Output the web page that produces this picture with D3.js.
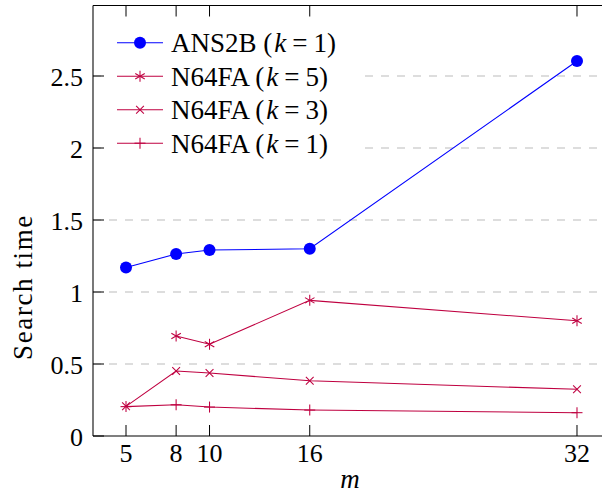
<!DOCTYPE html>
<html>
<head>
<meta charset="utf-8">
<script src="https://cdn.jsdelivr.net/npm/d3@7"></script>
<style>
  body { margin: 0; background: #fff; }
</style>
</head>
<body>
<svg id="chart" width="602" height="494"></svg>
<script>
// data
const mValues = [5, 8, 10, 16, 32];
const ans2bK1 = [1.17, 1.264, 1.292, 1.30, 2.604];
const n64faK5 = [null, 0.694, 0.637, 0.942, 0.80];
const n64faK3 = [0.206, 0.451, 0.437, 0.384, 0.324];
const n64faK1 = [0.204, 0.217, 0.201, 0.18, 0.162];
const yTicks = [0, 0.5, 1, 1.5, 2, 2.5];
const yTickLabels = ["0", "0.5", "1", "1.5", "2", "2.5"];

const blue = "#0000ff", purple = "#bf0040";
const serifFont = "'Liberation Serif', Tinos, 'Times New Roman', Times, 'DejaVu Serif', 'Noto Serif', serif";

const series = [
    { name: "ANS2B", k: 1, values: ans2bK1, color: blue, mark: "circle" },
    { name: "N64FA", k: 5, values: n64faK5, color: purple, mark: "asterisk" },
    { name: "N64FA", k: 3, values: n64faK3, color: purple, mark: "x" },
    { name: "N64FA", k: 1, values: n64faK1, color: purple, mark: "plus" }
];

const svg = d3.select("#chart").attr("font-family", serifFont);
const plotLeft = 93, plotTop = 5.5, plotBottom = 436;

const x = d3.scaleLinear().domain([3, 34]).range([92.6, 610.4]);
const y = d3.scaleLinear().domain([0, 3]).range([plotBottom, plotBottom - 432]);

// grid
svg.append("g").selectAll("line")
    .data(yTicks.filter(d => d > 0))
    .enter().append("line")
    .attr("x1", plotLeft).attr("x2", 602)
    .attr("y1", d => y(d)).attr("y2", d => y(d))
    .attr("stroke", "#bcbcbc").attr("stroke-width", 1.06)
    .attr("stroke-dasharray", "8,8");

// axes box
svg.append("line").attr("x1", plotLeft).attr("x2", plotLeft).attr("y1", plotTop).attr("y2", plotBottom)
    .attr("stroke", "#000").attr("stroke-width", 1.06);
svg.append("line").attr("x1", plotLeft).attr("x2", 602).attr("y1", plotBottom).attr("y2", plotBottom)
    .attr("stroke", "#000").attr("stroke-width", 1.06);
svg.append("line").attr("x1", plotLeft).attr("x2", 602).attr("y1", plotTop).attr("y2", plotTop)
    .attr("stroke", "#000").attr("stroke-width", 1.06);

// x ticks (inside, mirrored on top)
const xt = svg.append("g");
mValues.forEach(m => {
    xt.append("line").attr("x1", x(m)).attr("x2", x(m)).attr("y1", plotBottom).attr("y2", plotBottom - 11)
        .attr("stroke", "#000").attr("stroke-width", 1);
    xt.append("line").attr("x1", x(m)).attr("x2", x(m)).attr("y1", plotTop).attr("y2", plotTop + 11)
        .attr("stroke", "#000").attr("stroke-width", 1);
    xt.append("text").attr("x", x(m)).attr("y", 462)
        .attr("text-anchor", "middle").attr("font-size", 26).text(m);
});

// y ticks
const yt = svg.append("g");
yTicks.forEach((v, i) => {
    yt.append("line").attr("x1", plotLeft).attr("x2", plotLeft + 11).attr("y1", y(v)).attr("y2", y(v))
        .attr("stroke", "#000").attr("stroke-width", 1);
    yt.append("text").attr("x", 83).attr("y", y(v) + 9.5)
        .attr("text-anchor", "end").attr("font-size", 26).text(yTickLabels[i]);
});

// axis labels
svg.append("text").attr("x", 350).attr("y", 488).attr("text-anchor", "middle")
    .attr("font-size", 27).attr("font-style", "italic").text("m");
svg.append("text").attr("transform", "translate(32,287) rotate(-90)")
    .attr("text-anchor", "middle").attr("font-size", 27).attr("letter-spacing", 1.6).text("Search time");

// markers
function drawMark(g, mark, cx, cy, color) {
    const r = 5.5;
    if (mark === "circle") {
        g.append("circle").attr("cx", cx).attr("cy", cy).attr("r", 6).attr("fill", color);
        return;
    }
    let angles = [];
    if (mark === "plus") angles = [0, 90];
    if (mark === "x") angles = [45, 135];
    if (mark === "asterisk") angles = [90, 30, 150];
    angles.forEach(a => {
        const dx = r * Math.cos(a * Math.PI / 180), dy = r * Math.sin(a * Math.PI / 180);
        g.append("line").attr("x1", cx - dx).attr("x2", cx + dx).attr("y1", cy - dy).attr("y2", cy + dy)
            .attr("stroke", color).attr("stroke-width", 1.06);
    });
}

const line = d3.line()
    .defined(d => d.v !== null)
    .x(d => x(d.m)).y(d => y(d.v));

// draw in reverse so ANS2B sits on top
series.slice().reverse().forEach(s => {
    const pts = mValues.map((m, i) => ({ m: m, v: s.values[i] }));
    const g = svg.append("g");
    g.append("path").datum(pts).attr("d", line)
        .attr("fill", "none").attr("stroke", s.color).attr("stroke-width", 1.06);
    pts.filter(p => p.v !== null).forEach(p => drawMark(g, s.mark, x(p.m), y(p.v), s.color));
});

// legend
const lg = svg.append("g");
lg.append("rect").attr("x", 105).attr("y", 22).attr("width", 259).attr("height", 141).attr("fill", "#fff");
series.forEach((s, i) => {
    const cy = 42.7 + i * 33.5;
    lg.append("line").attr("x1", 117).attr("x2", 163).attr("y1", cy).attr("y2", cy)
        .attr("stroke", s.color).attr("stroke-width", 1.06);
    drawMark(lg, s.mark, 140, cy, s.color);
    const t = lg.append("text").attr("x", 171).attr("y", cy + 9.5).attr("font-size", 27)
        .attr("xml:space", "preserve");
    t.append("tspan").text(s.name + " (");
    t.append("tspan").attr("font-style", "italic").attr("dx", 2).text("k");
    t.append("tspan").attr("dx", 6).text("=");
    t.append("tspan").attr("dx", 6).text(s.k + ")");
});
</script>
</body>
</html>
